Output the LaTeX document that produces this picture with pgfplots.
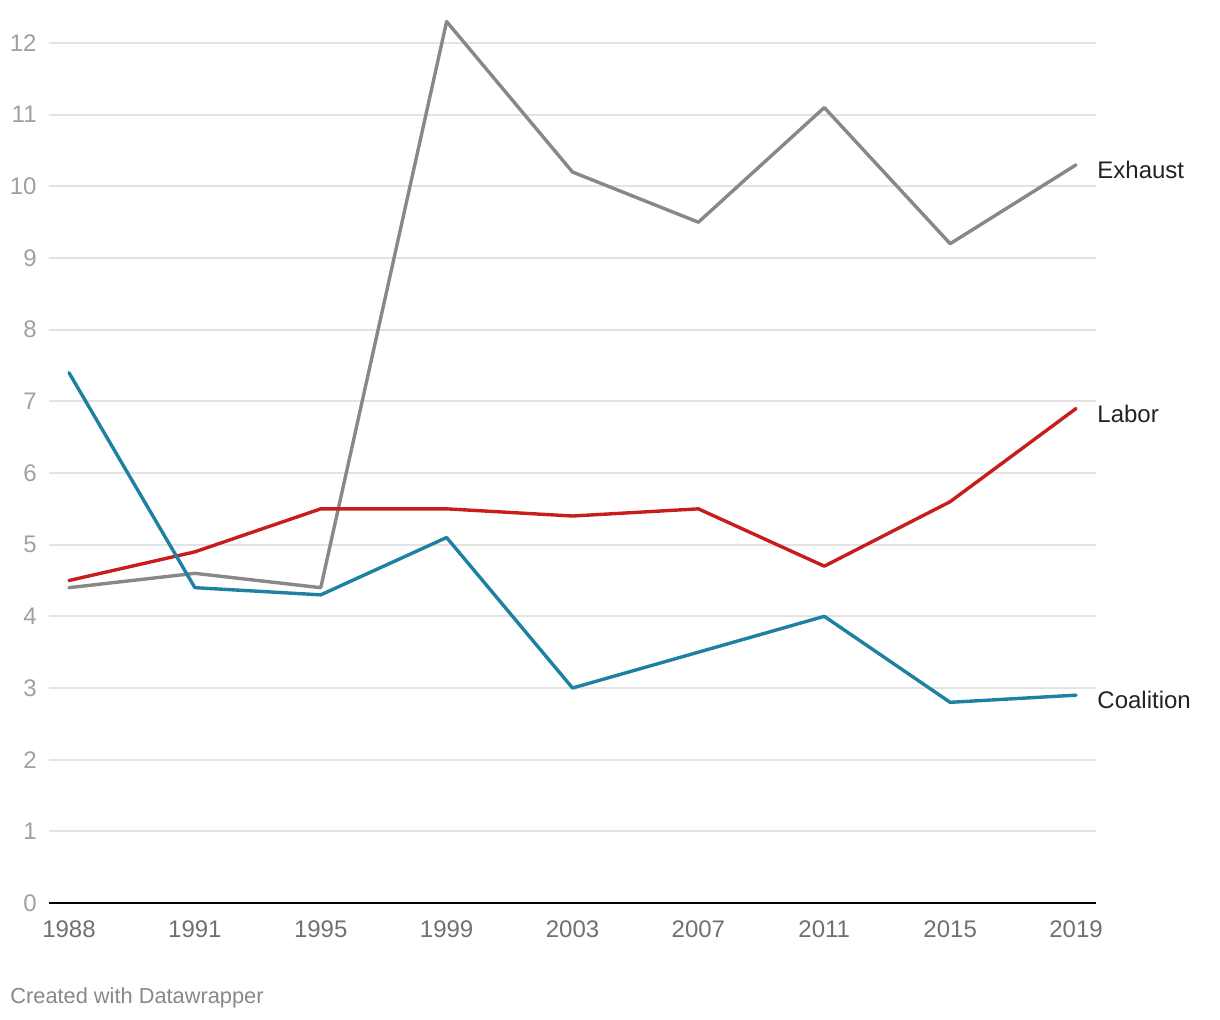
\documentclass[border=0pt]{standalone}
\usepackage{pgfplots}
\pgfplotsset{compat=1.18}
\usepackage{fontspec}
\setmainfont{Liberation Sans}
\definecolor{exh}{HTML}{888888}
\definecolor{lab}{HTML}{C71E1D}
\definecolor{coa}{HTML}{1D81A2}
\definecolor{gridc}{HTML}{E3E3E3}
\definecolor{ylab}{HTML}{A0A0A0}
\definecolor{xlab}{HTML}{707070}
\definecolor{txt}{HTML}{222222}
\begin{document}
\begin{tikzpicture}[font=\fontsize{12pt}{14pt}\selectfont]
\path[use as bounding box] (0,0) rectangle (610pt,510pt);
\begin{axis}[
  at={(24.5pt,58.5pt)}, anchor=south west,
  scale only axis, width=523.5pt, height=444.3pt,
  xmin=-0.1587, xmax=8.1587, ymin=0, ymax=12.4,
  axis line style={draw=none},
  xtick={0,...,8},
  xticklabels={1988,1991,1995,1999,2003,2007,2011,2015,2019},
  ytick={0,1,...,12},
  major tick length=0pt,
  ymajorgrids, grid style={gridc, line width=0.9pt},
  /pgf/number format/assume math mode=true,
  yticklabel style={text=ylab, inner sep=0pt, anchor=east, xshift=-6pt},
  xticklabel style={text=xlab, inner sep=0pt, anchor=north, yshift=-8.5pt},
  clip=false,
  every axis plot/.append style={line width=1.7pt, line join=round, line cap=round, mark=none},
]
\draw[black, line width=1.4pt] (axis cs:-0.1587,0) -- (axis cs:8.1587,0);
\addplot[exh] coordinates {(0,4.4)(1,4.6)(2,4.4)(3,12.3)(4,10.2)(5,9.5)(6,11.1)(7,9.2)(8,10.3)};
\addplot[lab] coordinates {(0,4.5)(1,4.9)(2,5.5)(3,5.5)(4,5.4)(5,5.5)(6,4.7)(7,5.6)(8,6.9)};
\addplot[coa] coordinates {(0,7.4)(1,4.4)(2,4.3)(3,5.1)(4,3.0)(5,3.5)(6,4.0)(7,2.8)(8,2.9)};
\node[anchor=west, inner sep=0pt, text=txt, xshift=10.5pt, yshift=-2.5pt] at (axis cs:8,10.3) {Exhaust};
\node[anchor=west, inner sep=0pt, text=txt, xshift=10.5pt, yshift=-2.5pt] at (axis cs:8,6.9) {Labor};
\node[anchor=west, inner sep=0pt, text=txt, xshift=10.5pt, yshift=-2.5pt] at (axis cs:8,2.9) {Coalition};
\end{axis}
\node[anchor=base west, inner sep=0pt, text=exh, font=\fontsize{10.9pt}{13pt}\selectfont] at (5pt,8pt) {Created with Datawrapper};
\end{tikzpicture}
\end{document}
